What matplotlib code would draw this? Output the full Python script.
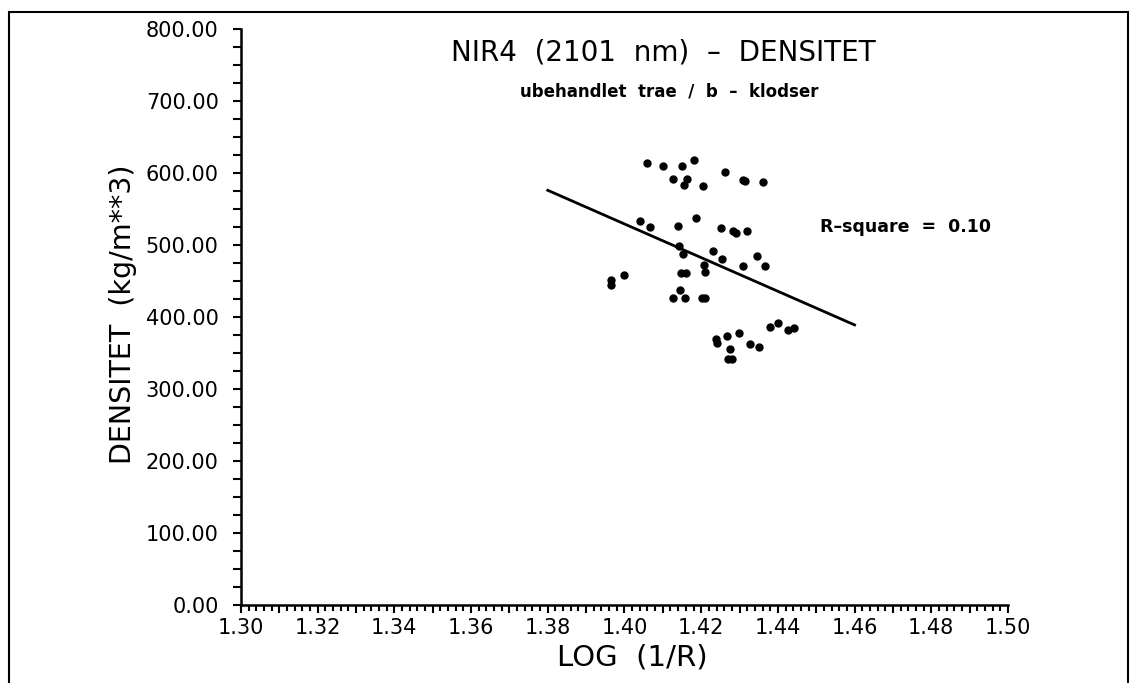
import numpy as np
import matplotlib
matplotlib.use('Agg')
import matplotlib.pyplot as plt
from matplotlib.ticker import MultipleLocator, FuncFormatter
from matplotlib.patches import Rectangle

# maalepunkter aflaest fra figuren
log_r = [1.4058, 1.4100, 1.4151, 1.4182, 1.4262, 1.4126, 1.4164, 1.4155, 1.4205,
         1.4308, 1.4314, 1.4362, 1.4040, 1.4066, 1.4140, 1.4186, 1.4252, 1.4284,
         1.4291, 1.4319, 1.4142, 1.4152, 1.4230, 1.4253, 1.4208, 1.4210, 1.4147,
         1.4160, 1.3965, 1.3965, 1.4000, 1.4145, 1.4126, 1.4159, 1.4201, 1.4210,
         1.4239, 1.4242, 1.4267, 1.4308, 1.4345, 1.4366, 1.4379, 1.4401, 1.4426,
         1.4442, 1.4299, 1.4327, 1.4352, 1.4275, 1.4270, 1.4280]
densitet = [614, 610, 610, 618, 602, 592, 592, 583, 582,
            591, 589, 588, 533, 525, 526, 537, 523, 520,
            516, 520, 499, 488, 492, 481, 472, 463, 461,
            461, 452, 444, 459, 438, 427, 427, 427, 427,
            370, 364, 373, 471, 485, 471, 386, 391, 382,
            385, 378, 362, 359, 356, 342, 342]

# regressionslinje
fit_x = [1.38, 1.46]
fit_y = [576, 389]
r_square = 0.10

plt.rcParams['font.family'] = 'DejaVu Sans'

fig = plt.figure(figsize=(11.35, 6.83), dpi=100)
ax = fig.add_axes([0.2123, 0.1142, 0.6758, 0.8433])

ax.plot(log_r, densitet, 'ko', markersize=5)
ax.plot(fit_x, fit_y, 'k-', linewidth=2)

ax.set_xlim(1.30, 1.50)
ax.set_ylim(0, 800)

# akser
for s in ['top', 'right']:
    ax.spines[s].set_visible(False)
for s in ['left', 'bottom']:
    ax.spines[s].set_linewidth(1.8)

ax.xaxis.set_major_locator(MultipleLocator(0.01))
ax.xaxis.set_minor_locator(MultipleLocator(0.002))
ax.xaxis.set_major_formatter(FuncFormatter(
    lambda v, p: '%.2f' % v if round(v * 100) % 2 == 0 else ''))
ax.yaxis.set_major_locator(MultipleLocator(100))
ax.yaxis.set_minor_locator(MultipleLocator(25))
ax.yaxis.set_major_formatter(FuncFormatter(lambda v, p: '%.2f' % v))

ax.tick_params(axis='both', which='both', direction='out', width=1.5, labelsize=15)
ax.tick_params(axis='y', which='both', length=6, pad=10)
ax.tick_params(axis='x', which='major', length=6, pad=3)
ax.tick_params(axis='x', which='minor', length=4.5)

ax.set_xlabel('LOG  (1/R)', fontsize=21)
ax.xaxis.set_label_coords(0.51, -0.066)
ax.set_ylabel('DENSITET  (kg/m**3)', fontsize=20.5)
ax.yaxis.set_label_coords(-0.136, 0.505)

# titler
fig.text(663 / 1135, 1 - 52 / 683, 'NIR4  (2101  nm)  –  DENSITET',
         ha='center', va='center', fontsize=20)
fig.text(669 / 1135, 1 - 92 / 683, 'ubehandlet  trae  /  b  –  klodser',
         ha='center', va='center', fontsize=12, fontweight='bold')
fig.text(820 / 1135, 1 - 227 / 683, 'R–square  =  %.2f' % r_square,
         ha='left', va='center', fontsize=12.5, fontweight='bold')

# ramme rundt om figuren
fig.patches.append(Rectangle((9 / 1135, -0.05), 1119 / 1135, 1.05 - 12 / 683,
                             transform=fig.transFigure, fill=False,
                             edgecolor='black', linewidth=1.5))

plt.savefig('out.png', dpi=100)
